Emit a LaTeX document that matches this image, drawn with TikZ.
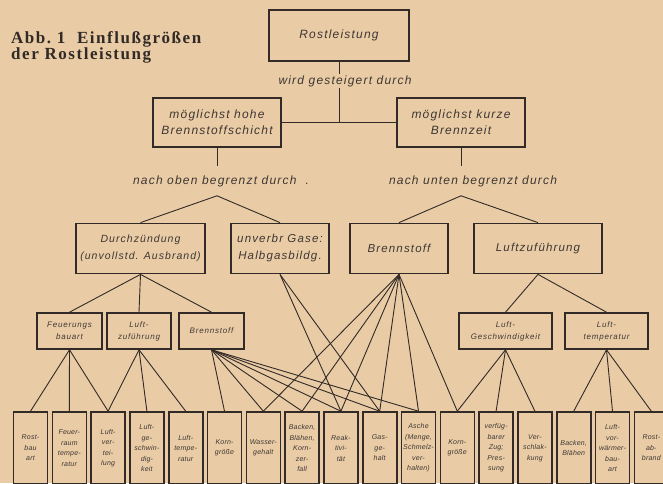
\documentclass[tikz,border=0pt]{standalone}
\usepackage{fontspec}
\newfontfamily\handfont{Liberation Sans}[LetterSpace=10]
\newfontfamily\leaffont{Liberation Sans}[LetterSpace=3]
\newfontfamily\titlefont{Liberation Serif}[LetterSpace=9]
\usetikzlibrary{positioning}
\definecolor{paper}{RGB}{233,204,166}
\definecolor{ink}{RGB}{50,42,38}
\definecolor{pencil}{RGB}{62,54,50}

\begin{document}
\begin{tikzpicture}[x=1pt, y=-1pt, node distance=3.2pt,
    topbox/.style={rectangle, draw=ink, line width=1.9pt, text=pencil, align=center, inner sep=2pt, font=\handfont\itshape\fontsize{12}{16}\selectfont},
    midbox/.style={rectangle, draw=ink, line width=1.8pt, text=pencil, align=center, inner sep=2pt, minimum height=50pt, font=\handfont\itshape\fontsize{11.5}{17}\selectfont},
    subbox/.style={rectangle, draw=ink, line width=1.6pt, text=pencil, align=center, inner sep=1pt, minimum height=36pt, font=\handfont\itshape\fontsize{8}{12}\selectfont},
    leaf/.style={rectangle, draw=ink, line width=1.6pt, text=pencil, align=center, text width=32pt, inner xsep=1pt, minimum height=72pt, font=\leaffont\itshape\fontsize{7}{10.5}\selectfont},
    lbl/.style={text=pencil, inner xsep=0pt, font=\handfont\itshape\fontsize{12}{14}\selectfont},
    link/.style={draw=ink, line width=0.9pt}]
    \useasboundingbox (0,0) rectangle (663,483);
    \fill[paper] (0,0) rectangle (663,483);
    \node[anchor=north west, inner sep=0pt, align=left, text=ink, font=\titlefont\bfseries\fontsize{17}{14}\selectfont] (title) at (11,31) {Abb.\ 1\ \ Einflußgrößen\\der Rostleistung};
    \node[topbox, minimum width=140pt, minimum height=51pt] (root) at (339,35.5) {Rostleistung};
    \node[lbl, inner ysep=1.5pt] (gesteigert) at (345,81) {wird gesteigert durch};
    \node[topbox, minimum width=128pt, minimum height=49pt] (schicht) at (217,122.5) {möglichst hohe\\Brennstoffschicht};
    \node[topbox, minimum width=128pt, minimum height=49pt] (zeit) at (461,122.5) {möglichst kurze\\Brennzeit};
    \node[lbl, inner ysep=9pt] (oben) at (221,181) {nach oben begrenzt durch\ \ .};
    \node[lbl, inner ysep=9pt] (unten) at (473,181) {nach unten begrenzt durch};
    \node[midbox, minimum width=129pt, font=\handfont\itshape\fontsize{10.5}{17}\selectfont] (durch) at (140.5,248.5) {Durchzündung\\(unvollstd. Ausbrand)};
    \node[midbox, minimum width=98pt] (gase) at (280,248.5) {unverbr Gase:\\Halbgasbildg.};
    \node[midbox, minimum width=98pt] (brenn) at (399,248.5) {Brennstoff};
    \node[midbox, minimum width=128pt] (luft) at (538,248.5) {Luftzuführung};
    \node[subbox, minimum width=65pt] (feuer) at (69.5,331) {Feuerungs\\bauart};
    \node[subbox, minimum width=64pt] (zufuhr) at (139,331) {Luft-\\zuführung};
    \node[subbox, minimum width=65pt] (stoff) at (211.5,331) {Brennstoff};
    \node[subbox, minimum width=93pt] (vgeschw) at (505.5,331) {Luft-\\Geschwindigkeit};
    \node[subbox, minimum width=83pt] (vtemp) at (606.5,331) {Luft-\\temperatur};
    \node[leaf] (rostbau) at (30.5,448) {Rost-\\bau\\art};
    \node[leaf, right=of rostbau] (raumtemp) {Feuer-\\raum\\tempe-\\ratur};
    \node[leaf, right=of raumtemp] (verteil) {Luft-\\ver-\\tei-\\lung};
    \node[leaf, right=of verteil] (geschw) {Luft-\\ge-\\schwin-\\dig-\\keit};
    \node[leaf, right=of geschw] (ltemp) {Luft-\\tempe-\\ratur};
    \node[leaf, right=of ltemp] (korn) {Korn-\\größe};
    \node[leaf, right=of korn] (wasser) {Wasser-\\gehalt};
    \node[leaf, right=of wasser] (backen) {Backen,\\Blähen,\\Korn-\\zer-\\fall};
    \node[leaf, right=of backen] (reak) {Reak-\\tivi-\\tät};
    \node[leaf, right=of reak] (gas) {Gas-\\ge-\\halt};
    \node[leaf, right=of gas] (asche) {Asche\\(Menge,\\\mbox{Schmelz-}\\ver-\\halten)};
    \node[leaf, right=of asche] (kornb) {Korn-\\größe};
    \node[leaf, right=of kornb] (zug) {verfüg-\\barer\\Zug;\\Pres-\\sung};
    \node[leaf, right=of zug] (schlack) {Ver-\\schlak-\\kung};
    \node[leaf, right=of schlack] (blaehen) {Backen,\\Blähen};
    \node[leaf, right=of blaehen] (vorw) {Luft-\\vor-\\wärmer-\\bau-\\art};
    \node[leaf, right=of vorw] (abbrand) {Rost-\\ab-\\brand};
    \draw[link] (root.south) -- (root.south |- gesteigert.north);
    \draw[link] (root.south |- gesteigert.south) -- (root.south |- schicht.east);
    \draw[link] (schicht.east) -- (zeit.west);
    \draw[link] (schicht.south) -- (schicht.south |- oben.north);
    \draw[link] (schicht.south |- oben.south) -- (durch.north);
    \draw[link] (schicht.south |- oben.south) -- (gase.north);
    \draw[link] (zeit.south) -- (zeit.south |- unten.north);
    \draw[link] (zeit.south |- unten.south) -- (brenn.north);
    \draw[link] (zeit.south |- unten.south) -- (luft.north);
    \draw[link] (durch.south) -- (feuer.north);
    \draw[link] (durch.south) -- (zufuhr.north);
    \draw[link] (durch.south) -- (stoff.north);
    \draw[link] (luft.south) -- (vgeschw.north);
    \draw[link] (luft.south) -- (vtemp.north);
    \draw[link] (feuer.south) -- (rostbau.north);
    \draw[link] (feuer.south) -- (raumtemp.north);
    \draw[link] (feuer.south) -- (verteil.north);
    \draw[link] (zufuhr.south) -- (verteil.north);
    \draw[link] (zufuhr.south) -- (geschw.north);
    \draw[link] (zufuhr.south) -- (ltemp.north);
    \draw[link] (stoff.south) -- (korn.north);
    \draw[link] (stoff.south) -- (wasser.north);
    \draw[link] (stoff.south) -- (backen.north);
    \draw[link] (stoff.south) -- (reak.north);
    \draw[link] (stoff.south) -- (gas.north);
    \draw[link] (stoff.south) -- (asche.north);
    \draw[link] (gase.south) -- (reak.north);
    \draw[link] (gase.south) -- (gas.north);
    \draw[link] (brenn.south) -- (wasser.north);
    \draw[link] (brenn.south) -- (backen.north);
    \draw[link] (brenn.south) -- (reak.north);
    \draw[link] (brenn.south) -- (gas.north);
    \draw[link] (brenn.south) -- (asche.north);
    \draw[link] (brenn.south) -- (kornb.north);
    \draw[link] (vgeschw.south) -- (kornb.north);
    \draw[link] (vgeschw.south) -- (zug.north);
    \draw[link] (vgeschw.south) -- (schlack.north);
    \draw[link] (vtemp.south) -- (blaehen.north);
    \draw[link] (vtemp.south) -- (vorw.north);
    \draw[link] (vtemp.south) -- (abbrand.north);
\end{tikzpicture}
\end{document}
